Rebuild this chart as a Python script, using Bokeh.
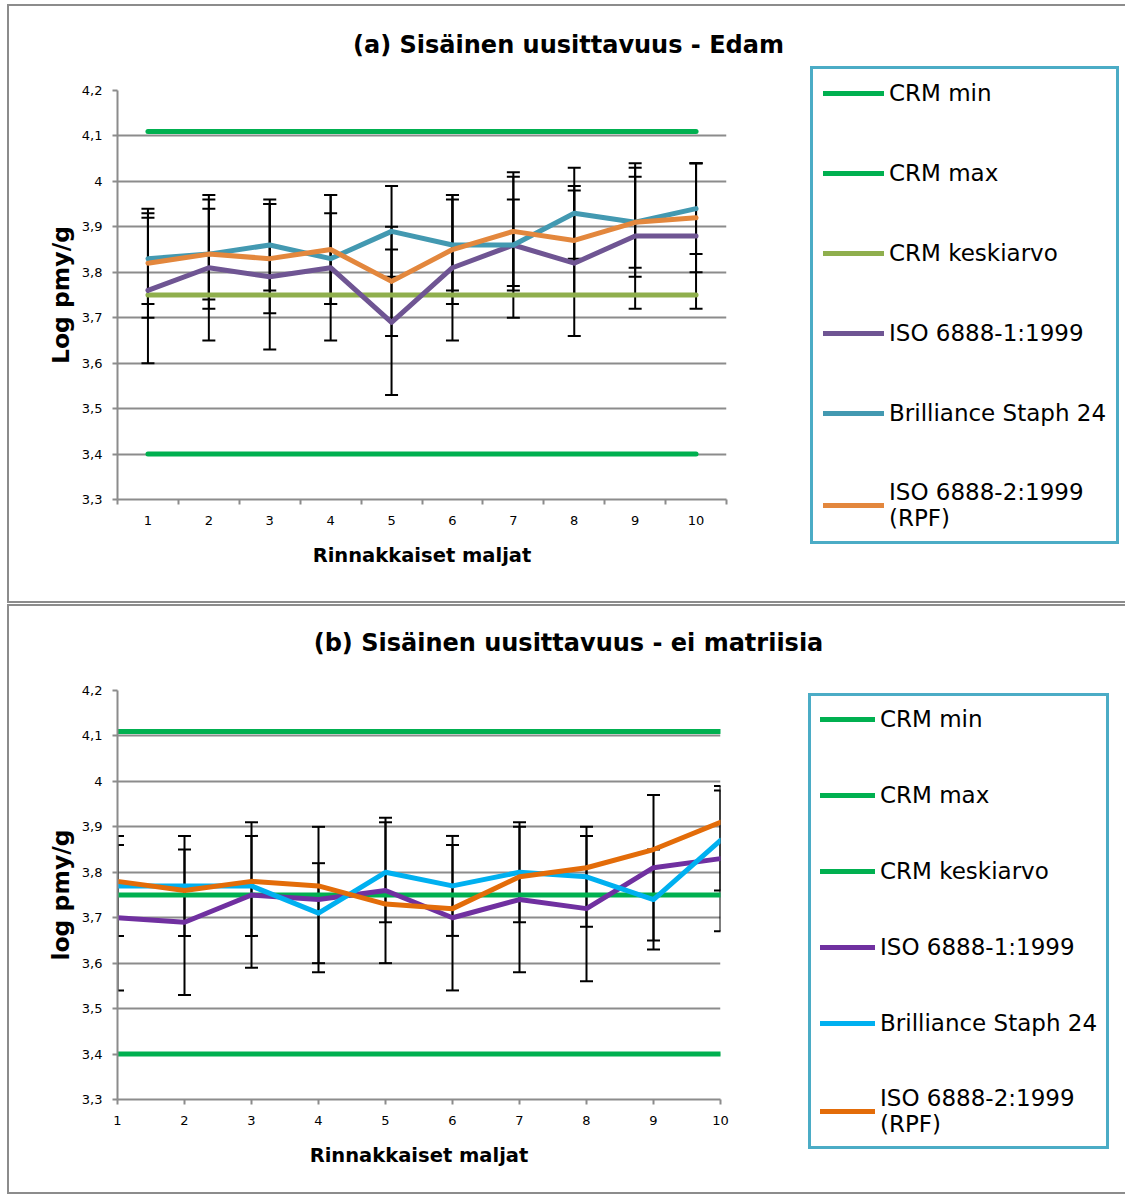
from bokeh.plotting import figure
from bokeh.models import (ColumnDataSource, Whisker, TeeHead, Legend, LegendItem,
                          FixedTicker, CustomJSTickFormatter, Range1d, Label)
from bokeh.layouts import column, row
from bokeh.embed import file_html
from bokeh.resources import INLINE

# ---------------- data ----------------
x = [1, 2, 3, 4, 5, 6, 7, 8, 9, 10]
y_ticks = [3.3, 3.4, 3.5, 3.6, 3.7, 3.8, 3.9, 4.0, 4.1, 4.2]

crm_min = 3.40
crm_max = 4.11
crm_mean = 3.75

# (a) Edam
iso1_a = [3.76, 3.81, 3.79, 3.81, 3.69, 3.81, 3.86, 3.82, 3.88, 3.88]
brill_a = [3.83, 3.84, 3.86, 3.83, 3.89, 3.86, 3.86, 3.93, 3.91, 3.94]
iso2_a = [3.82, 3.84, 3.83, 3.85, 3.78, 3.85, 3.89, 3.87, 3.91, 3.92]
iso1_a_err = [0.16, 0.16, 0.16, 0.16, 0.16, 0.16, 0.16, 0.16, 0.16, 0.16]
brill_a_err = [0.10, 0.10, 0.10, 0.10, 0.10, 0.10, 0.10, 0.10, 0.10, 0.10]
iso2_a_err = [0.12, 0.12, 0.12, 0.12, 0.12, 0.12, 0.12, 0.12, 0.12, 0.12]

# (b) ei matriisia
iso1_b = [3.70, 3.69, 3.75, 3.74, 3.76, 3.70, 3.74, 3.72, 3.81, 3.83]
brill_b = [3.77, 3.77, 3.77, 3.71, 3.80, 3.77, 3.80, 3.79, 3.74, 3.87]
iso2_b = [3.78, 3.76, 3.78, 3.77, 3.73, 3.72, 3.79, 3.81, 3.85, 3.91]
iso1_b_err = [0.16, 0.16, 0.16, 0.16, 0.16, 0.16, 0.16, 0.16, 0.16, 0.16]
brill_b_err = [0.11, 0.11, 0.11, 0.11, 0.11, 0.11, 0.11, 0.11, 0.11, 0.11]

labels = ["CRM min", "CRM max", "CRM keskiarvo", "ISO 6888-1:1999",
          "Brilliance Staph 24", "ISO 6888-2:1999\n(RPF)"]

FONT = "DejaVu Sans"
GRID = "#8c8c8c"
CONTENT_W = 1116
BORDER = "2px solid #8c8c8c"


def blank_fig(w, h):
    f = figure(width=w, height=h, x_range=Range1d(0, 1), y_range=Range1d(0, 1),
               output_backend="svg", toolbar_location=None,
               min_border=0, min_border_left=0, min_border_right=0,
               min_border_top=0, min_border_bottom=0)
    f.title.visible = False
    f.xaxis.visible = False
    f.yaxis.visible = False
    f.grid.grid_line_color = None
    f.outline_line_color = None
    f.background_fill_color = "white"
    f.border_fill_color = "white"
    return f


def title_fig(text, h, cx, cy):
    f = blank_fig(CONTENT_W, h)
    f.add_layout(Label(x=cx, y=cy, x_units="screen", y_units="screen", text=text,
                       text_align="center", text_baseline="middle",
                       text_font=FONT, text_font_size="24px", text_font_style="bold",
                       text_color="black"))
    return f


def main_fig(ylabel, x_range, w, h, top, bottom, right, colors, series, errors, between):
    p = figure(width=w, height=h, x_range=x_range, y_range=Range1d(3.3, 4.2),
               output_backend="svg", toolbar_location=None,
               min_border_left=108, min_border_right=right,
               min_border_top=top, min_border_bottom=bottom)
    p.title.visible = False
    p.outline_line_color = None
    p.background_fill_color = "white"
    p.border_fill_color = "white"

    p.yaxis.ticker = FixedTicker(ticks=y_ticks)
    p.yaxis.formatter = CustomJSTickFormatter(
        code="return (Math.round(tick*10)/10).toString().replace('.', ',');")
    p.yaxis.axis_label = ylabel
    p.yaxis.axis_label_text_font = FONT
    p.yaxis.axis_label_text_font_size = "23.5px"
    p.yaxis.axis_label_text_font_style = "bold"
    p.yaxis.axis_label_standoff = 4
    p.yaxis.major_label_text_font = FONT
    p.yaxis.major_label_text_font_size = "13px"
    p.yaxis.major_label_standoff = 10
    p.yaxis.major_tick_in = 0
    p.yaxis.major_tick_out = 5
    p.yaxis.minor_tick_line_color = None
    p.yaxis.major_tick_line_color = GRID
    p.yaxis.major_tick_line_width = 2

    if between:
        p.xaxis.ticker = FixedTicker(ticks=x, minor_ticks=[v - 0.5 for v in x] + [x[-1] + 0.5])
        p.xaxis.major_tick_line_color = None
        p.xaxis.major_tick_out = 0
        p.xaxis.major_tick_in = 0
        p.xaxis.minor_tick_out = 5
        p.xaxis.minor_tick_in = 0
        p.xaxis.minor_tick_line_color = GRID
        p.xaxis.minor_tick_line_width = 2
        p.xaxis.major_label_standoff = 11
    else:
        p.xaxis.ticker = FixedTicker(ticks=x)
        p.xaxis.major_tick_in = 0
        p.xaxis.major_tick_out = 5
        p.xaxis.major_tick_line_color = GRID
        p.xaxis.major_tick_line_width = 2
        p.xaxis.minor_tick_line_color = None
        p.xaxis.major_label_standoff = 11
    p.xaxis.axis_label = "Rinnakkaiset maljat"
    p.xaxis.axis_label_text_font = FONT
    p.xaxis.axis_label_text_font_size = "19.5px"
    p.xaxis.axis_label_text_font_style = "bold"
    p.xaxis.axis_label_standoff = 16
    p.xaxis.major_label_text_font = FONT
    p.xaxis.major_label_text_font_size = "13px"

    for ax in (p.xaxis, p.yaxis):
        ax.axis_line_color = GRID
        ax.axis_line_width = 2
        ax.major_label_text_color = "black"
        ax.axis_label_text_color = "black"

    p.xgrid.grid_line_color = None
    p.ygrid.grid_line_color = GRID
    p.ygrid.grid_line_width = 2

    for vals, col in zip(series, colors):
        p.line(x, vals, line_color=col, line_width=5, line_cap="round", line_join="round")

    for idx, err in errors:
        vals = series[idx]
        src = ColumnDataSource(dict(x=x,
                                    upper=[v + e for v, e in zip(vals, err)],
                                    lower=[v - e for v, e in zip(vals, err)]))
        p.add_layout(Whisker(source=src, base="x", upper="upper", lower="lower",
                             line_color="black", line_width=2,
                             upper_head=TeeHead(size=13, line_color="black", line_width=2),
                             lower_head=TeeHead(size=13, line_color="black", line_width=2)))
    return p


def legend_fig(w, h, colors, loc, padding, spacing, glyph_w):
    f = blank_fig(w, h)
    # legend proxies (outside the visible range of this blank figure)
    rs = [f.line([5, 6], [5, 6], line_color=c, line_width=5, line_cap="round") for c in colors]
    items = [LegendItem(label=lab, renderers=[r]) for lab, r in zip(labels, rs)]
    f.add_layout(Legend(items=items, location=loc, margin=0,
                        padding=padding, spacing=spacing,
                        glyph_width=glyph_w, glyph_height=20, label_height=28,
                        label_standoff=5,
                        label_text_font=FONT, label_text_font_size="23px",
                        label_text_color="black",
                        border_line_color="#4BACC6", border_line_width=3,
                        border_line_alpha=1.0,
                        background_fill_color="white", background_fill_alpha=1.0))
    return f


# ---------------- panel (a) ----------------
colors_a = ["#00B050", "#00B050", "#8FAF4D", "#6F5593", "#4399B1", "#E3873D"]
series_a = [[crm_min] * len(x), [crm_max] * len(x), [crm_mean] * len(x), iso1_a, brill_a, iso2_a]
ta = title_fig("(a) Sisäinen uusittavuus - Edam", 58, 559, 20)
ma = main_fig("Log pmy/g", Range1d(0.5, 10.5), 781, 537, 26, 102, 64,
              colors_a, series_a, [(3, iso1_a_err), (4, brill_a_err), (5, iso2_a_err)], True)
la = legend_fig(335, 537, colors_a, (20, 57), 10, 52, 61)
panel_a = column(ta, row(ma, column(la, spacing=0), spacing=0), spacing=0)
panel_a.styles = {"border-left": BORDER, "border-top": BORDER, "border-bottom": BORDER}
panel_a.margin = (4, 0, 0, 7)

# ---------------- panel (b) ----------------
colors_b = ["#00B050", "#00B050", "#00B050", "#7030A0", "#00B0F0", "#E36C09"]
series_b = [[crm_min] * len(x), [crm_max] * len(x), [crm_mean] * len(x), iso1_b, brill_b, iso2_b]
tb = title_fig("(b) Sisäinen uusittavuus - ei matriisia", 73, 559, 37)
mb = main_fig("log pmy/g", Range1d(1, 10), 791, 513, 11, 93, 80,
              colors_b, series_b, [(3, iso1_b_err), (4, brill_b_err)], False)
lb = legend_fig(325, 513, colors_b, (8, 43), 9, 48, 55)
panel_b = column(tb, row(mb, column(lb, spacing=0), spacing=0), spacing=0)
panel_b.styles = {"border-left": BORDER, "border-top": BORDER, "border-bottom": BORDER}
panel_b.margin = (1, 0, 0, 7)

layout = column(panel_a, panel_b, spacing=0)
open("out.html", "w").write(file_html(layout, INLINE))
